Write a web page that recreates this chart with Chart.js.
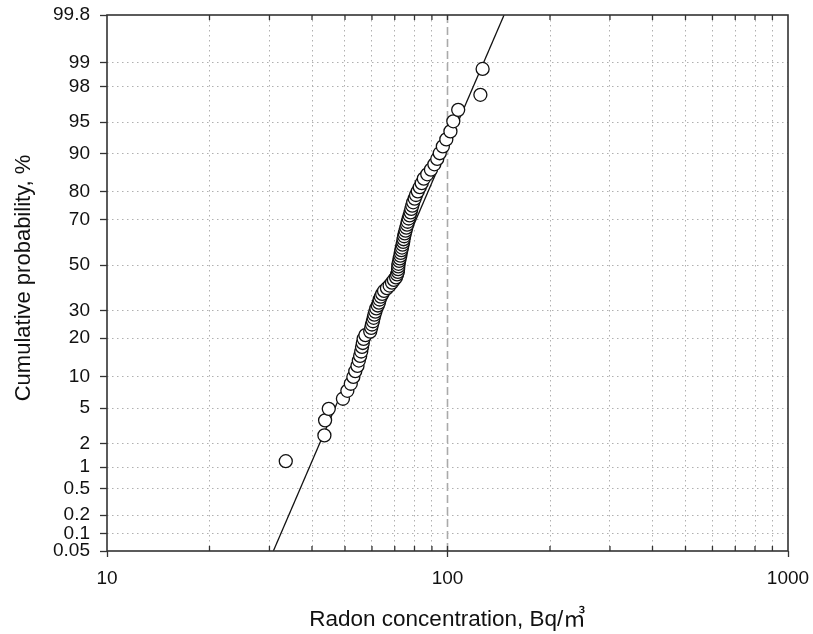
<!DOCTYPE html>
<html lang="en">
<head>
  <meta charset="UTF-8">
  <title>Radon probability plot</title>
  <style>
    html, body { margin: 0; padding: 0; background: #fff; }
    #wrap { width: 813px; height: 634px; position: relative; }
  </style>
</head>
<body>
  <div id="wrap"><canvas id="graphic"></canvas></div>

  <script src="https://cdn.jsdelivr.net/npm/chart.js"></script>
  <script>
    // measured radon concentrations, Bq/m3 (sorted)
    const radon = [
      33.5, 43.5, 43.7, 44.8, 49.3, 50.8, 52.0, 52.9, 53.6, 54.4,
      54.9, 55.4, 55.8, 56.1, 56.4, 56.7, 57.4, 59.3, 59.7, 60.0,
      60.4, 60.7, 61.0, 61.4, 61.8, 62.4, 62.9, 63.2, 63.7, 64.3,
      65.1, 66.4, 67.6, 68.7, 69.6, 70.6, 71.1, 71.5, 71.6, 71.7,
      71.8, 72.1, 72.4, 72.7, 72.9, 73.2, 73.5, 73.8, 74.1, 74.3,
      74.6, 74.9, 75.3, 75.7, 76.1, 76.4, 76.9, 77.4, 77.9, 78.3,
      78.8, 79.3, 80.1, 80.8, 81.8, 82.9, 84.0, 85.2, 87.2, 89.4,
      91.5, 93.3, 94.9, 96.9, 99.2, 102.0, 104.0, 107.5, 124.9, 126.8
    ];
    // cumulative probability of each measurement, %
    const cumProb = [
      1.2, 2.5, 3.7, 4.9, 6.2, 7.4, 8.6, 9.9, 11.1, 12.3,
      13.6, 14.8, 16.0, 17.3, 18.5, 19.8, 21.0, 22.2, 23.5, 24.7,
      25.9, 27.2, 28.4, 29.6, 30.9, 32.1, 33.3, 34.6, 35.8, 37.0,
      38.3, 39.5, 40.7, 42.0, 43.2, 44.4, 45.7, 46.9, 48.1, 49.4,
      50.6, 51.9, 53.1, 54.3, 55.6, 56.8, 58.0, 59.3, 60.5, 61.7,
      63.0, 64.2, 65.4, 66.7, 67.9, 69.1, 70.4, 71.6, 72.8, 74.1,
      75.3, 76.5, 77.8, 79.0, 80.2, 81.5, 82.7, 84.0, 85.2, 86.4,
      87.7, 88.9, 90.1, 91.4, 92.6, 93.8, 95.1, 96.3, 97.5, 98.8
    ];
    // fitted lognormal line (end points)
    const fitX = [30.8, 146.6];
    const fitP = [0.05, 99.8];
    // reference line
    const refX = 100;

    const xTicks = [10, 20, 30, 40, 50, 60, 70, 80, 90, 100,
                    200, 300, 400, 500, 600, 700, 800, 900, 1000];
    const xLabels = [10, 100, 1000];
    const yTicks = [0.05, 0.1, 0.2, 0.5, 1, 2, 5, 10, 20, 30, 50, 70, 80, 90, 95, 98, 99, 99.8];
    const yLabels = ['0.05', '0.1', '0.2', '0.5', '1', '2', '5', '10', '20', '30',
                     '50', '70', '80', '90', '95', '98', '99', '99.8'];

    // inverse normal cdf (Acklam), used for the probability axis
    function probit(p) {
      const a = [-3.969683028665376e+01, 2.209460984245205e+02, -2.759285104469687e+02,
                 1.383577518672690e+02, -3.066479806614716e+01, 2.506628277459239e+00];
      const b = [-5.447609879822406e+01, 1.615858368580409e+02, -1.556989798598866e+02,
                 6.680131188771972e+01, -1.328068155288572e+01];
      const c = [-7.784894002430293e-03, -3.223964580411365e-01, -2.400758277161838e+00,
                 -2.549732539343734e+00, 4.374664141464968e+00, 2.938163982698783e+00];
      const d = [7.784695709041462e-03, 3.224671290700398e-01, 2.445134137142996e+00,
                 3.754408661907416e+00];
      const pl = 0.02425;
      let q, r;
      if (p < pl) {
        q = Math.sqrt(-2 * Math.log(p));
        return (((((c[0]*q+c[1])*q+c[2])*q+c[3])*q+c[4])*q+c[5]) / ((((d[0]*q+d[1])*q+d[2])*q+d[3])*q+1);
      }
      if (p > 1 - pl) {
        q = Math.sqrt(-2 * Math.log(1 - p));
        return -(((((c[0]*q+c[1])*q+c[2])*q+c[3])*q+c[4])*q+c[5]) / ((((d[0]*q+d[1])*q+d[2])*q+d[3])*q+1);
      }
      q = p - 0.5; r = q * q;
      return (((((a[0]*r+a[1])*r+a[2])*r+a[3])*r+a[4])*r+a[5])*q / (((((b[0]*r+b[1])*r+b[2])*r+b[3])*r+b[4])*r+1);
    }
    const z = pct => probit(pct / 100);

    const yMin = z(yTicks[0]);
    const yMax = z(yTicks[yTicks.length - 1]);
    const FONT = '"Liberation Sans", Arial, "Noto Sans CJK JP", sans-serif';

    // frame, inner tick marks and y title
    const framePlugin = {
      id: 'frame',
      afterDraw(chart) {
        const { ctx, chartArea: a, scales: { x } } = chart;
        ctx.save();
        ctx.strokeStyle = '#333';
        ctx.lineWidth = 1.6;
        ctx.strokeRect(a.left, a.top, a.right - a.left, a.bottom - a.top);
        ctx.lineWidth = 1.3;
        ctx.beginPath();
        xTicks.forEach(v => {
          if (v === 10 || v === 1000) return;
          const px = x.getPixelForValue(v);
          ctx.moveTo(px, a.top); ctx.lineTo(px, a.top + 5);
          ctx.moveTo(px, a.bottom); ctx.lineTo(px, a.bottom - 5);
        });
        ctx.stroke();

        ctx.translate(24, 278);
        ctx.rotate(-Math.PI / 2);
        ctx.font = '22px ' + FONT;
        ctx.fillStyle = '#111';
        ctx.textAlign = 'center';
        ctx.textBaseline = 'middle';
        ctx.fillText('Cumulative probability, %', 0, 0);
        ctx.restore();
      }
    };

    // let the layout padding alone decide where the plot box sits
    const noLabelPadding = scale => {
      scale.paddingTop = 0;
      scale.paddingBottom = 0;
      scale.paddingLeft = 0;
      scale.paddingRight = 0;
    };

    document.addEventListener("DOMContentLoaded", () => {
      const lienzo = document.getElementById("graphic");

      new Chart(lienzo, {
        type: 'scatter',
        data: {
          datasets: [
            {
              label: 'Measurements',
              data: radon.map((v, i) => ({ x: v, y: z(cumProb[i]) })),
              pointRadius: 6.5,
              pointHoverRadius: 6.5,
              pointBackgroundColor: '#fff',
              pointBorderColor: '#111',
              pointBorderWidth: 1.3
            },
            {
              label: 'Fit',
              type: 'line',
              data: fitX.map((v, i) => ({ x: v, y: z(fitP[i]) })),
              borderColor: '#111',
              borderWidth: 1.3,
              pointRadius: 0,
              fill: false
            },
            {
              label: 'Reference',
              type: 'line',
              data: [{ x: refX, y: yMin }, { x: refX, y: yMax }],
              borderColor: '#aaa',
              borderWidth: 1.6,
              borderDash: [8, 4],
              pointRadius: 0,
              fill: false
            }
          ]
        },
        options: {
          responsive: true,
          maintainAspectRatio: false,
          animation: false,
          events: [],
          layout: { padding: { left: 0, top: 15, right: 25, bottom: 0 } },
          plugins: {
            legend: { display: false },
            tooltip: { enabled: false }
          },
          scales: {
            x: {
              type: 'logarithmic',
              min: 10,
              max: 1000,
              afterBuildTicks: scale => { scale.ticks = xTicks.map(v => ({ value: v })); },
              afterFit: scale => { scale.height = 83; noLabelPadding(scale); },
              border: { display: false, dash: [1.5, 3.5] },
              grid: {
                color: c => (c.tick && !xLabels.includes(c.tick.value)) ? '#b0b0b0' : 'rgba(0,0,0,0)',
                lineWidth: 1,
                tickLength: 6,
                tickWidth: 1.3,
                tickColor: c => (c.tick && xLabels.includes(c.tick.value)) ? '#333' : 'rgba(0,0,0,0)'
              },
              ticks: {
                autoSkip: false,
                maxRotation: 0,
                padding: 10,
                color: '#111',
                font: { family: FONT, size: 19 },
                callback: v => xLabels.includes(v) ? String(v) : ''
              },
              title: {
                display: true,
                text: 'Radon concentration, Bq/㎥',
                color: '#111',
                font: { family: FONT, size: 22.5 },
                padding: { top: 0, bottom: 1 }
              }
            },
            y: {
              type: 'linear',
              min: yMin,
              max: yMax,
              afterBuildTicks: scale => { scale.ticks = yTicks.map(p => ({ value: z(p) })); },
              afterFit: scale => { scale.width = 107; noLabelPadding(scale); },
              border: { display: false, dash: [1.5, 3.5] },
              grid: {
                color: c => (c.tick && c.index > 0 && c.index < yTicks.length - 1) ? '#b0b0b0' : 'rgba(0,0,0,0)',
                lineWidth: 1,
                tickLength: 7,
                tickWidth: 1.3,
                tickColor: '#333'
              },
              ticks: {
                autoSkip: false,
                padding: 10,
                color: '#111',
                font: { family: FONT, size: 19 },
                callback: (v, i) => yLabels[i]
              }
            }
          }
        },
        plugins: [framePlugin]
      });
    });
  </script>
</body>
</html>
